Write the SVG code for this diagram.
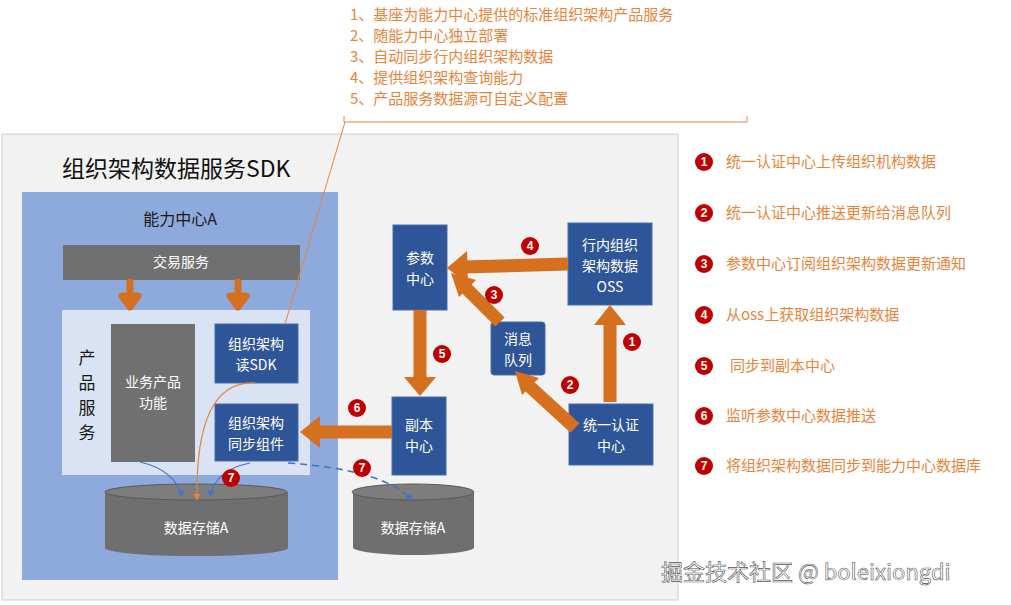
<svg xmlns="http://www.w3.org/2000/svg" width="1011" height="605" viewBox="0 0 1011 605">
<style>
text{font-family:"Noto Sans CJK SC","Liberation Sans",sans-serif}
.nb{fill:#2E5597;stroke:#4a6fae;stroke-width:1}
.nt{fill:#fff;font-size:14px;text-anchor:middle}
.gray{fill:#707070}
.or{fill:#E8843A;font-size:15px}
.lg{fill:#E8843A;font-size:15px}
.bd{fill:#C00000}
.bt{fill:#fff;font-size:12px;font-weight:bold;text-anchor:middle;font-family:"Liberation Sans",sans-serif}
.fat{stroke:#D5701F;stroke-width:13;fill:none}
.head{fill:#D5701F}
</style>
<defs>
<marker id="ba" viewBox="0 0 10 10" refX="9" refY="5" markerWidth="7" markerHeight="7" orient="auto" markerUnits="userSpaceOnUse"><path d="M0,0L10,5L0,10z" fill="#4472C4"/></marker>
<marker id="oa" viewBox="0 0 10 10" refX="9" refY="5" markerWidth="7" markerHeight="7" orient="auto" markerUnits="userSpaceOnUse"><path d="M0,0L10,5L0,10z" fill="#E8843A"/></marker>
</defs>
<rect width="1011" height="605" fill="#fff"/>
<g id="notes">
<text class="or" x="350" y="20">1、基座为能力中心提供的标准组织架构产品服务</text>
<text class="or" x="350" y="41">2、随能力中心独立部署</text>
<text class="or" x="350" y="62">3、自动同步行内组织架构数据</text>
<text class="or" x="350" y="83">4、提供组织架构查询能力</text>
<text class="or" x="350" y="104">5、产品服务数据源可自定义配置</text>
<path d="M344,116V122H747V116" fill="none" stroke="#E8843A" stroke-width="1"/>
</g>
<g id="sdk"><rect x="2" y="134" width="676" height="466" fill="#F2F2F2" stroke="#d0d0d0"/>
<text x="62" y="177" font-size="23" fill="#111">组织架构数据服务SDK</text></g>
<g id="centerA"><rect x="22" y="192" width="316" height="388" fill="#8EA9DB"/>
<text x="180" y="225" font-size="16" fill="#1a1a1a" text-anchor="middle">能力中心A</text></g>
<g id="trade"><rect x="63" y="245" width="237" height="35" class="gray"/><text class="nt" x="181" y="267">交易服务</text></g>
<g id="prod"><rect x="62" y="310" width="248" height="165" fill="#DAE3F3"/>
<text font-size="17" fill="#1a1a1a" text-anchor="middle"><tspan x="87" y="364">产</tspan><tspan x="87" y="389">品</tspan><tspan x="87" y="414">服</tspan><tspan x="87" y="439">务</tspan></text></g>
<g id="biz"><rect x="111" y="324" width="84" height="138" class="gray"/><text class="nt"><tspan x="153" y="387">业务产品</tspan><tspan x="153" y="408">功能</tspan></text></g>
<g id="readsdk"><rect x="215" y="324" width="83" height="59" class="nb"/><text class="nt"><tspan x="256" y="349">组织架构</tspan><tspan x="256" y="370">读SDK</tspan></text></g>
<g id="sync"><rect x="215" y="404" width="83" height="57" class="nb"/><text class="nt"><tspan x="256" y="428">组织架构</tspan><tspan x="256" y="449">同步组件</tspan></text></g>
<g id="db1"><path d="M105,492V548A91,8 0 0 0 288,548V492" fill="#6f6f6f"/><ellipse cx="196" cy="492" rx="91" ry="8" fill="#7d7d7d" stroke="#5a5a5a"/><text class="nt" x="196" y="533">数据存储A</text></g>
<g id="db2"><path d="M353,492V548A61,8 0 0 0 474,548V492" fill="#6f6f6f"/><ellipse cx="413" cy="492" rx="61" ry="8" fill="#7d7d7d" stroke="#5a5a5a"/><text class="nt" x="413" y="533">数据存储A</text></g>
<g id="param"><rect x="393" y="225" width="54" height="85" class="nb"/><text class="nt"><tspan x="420" y="263">参数</tspan><tspan x="420" y="284">中心</tspan></text></g>
<g id="oss"><rect x="568" y="223" width="84" height="82" class="nb"/><text class="nt"><tspan x="610" y="250">行内组织</tspan><tspan x="610" y="271">架构数据</tspan><tspan x="610" y="292">OSS</tspan></text></g>
<g id="mq"><rect x="491" y="322" width="54" height="53" rx="3" class="nb"/><text class="nt"><tspan x="518" y="344">消息</tspan><tspan x="518" y="365">队列</tspan></text></g>
<g id="copy"><rect x="392" y="397" width="54" height="78" class="nb"/><text class="nt"><tspan x="419" y="430">副本</tspan><tspan x="419" y="451">中心</tspan></text></g>
<g id="auth"><rect x="569" y="404" width="84" height="61" class="nb"/><text class="nt"><tspan x="611" y="430">统一认证</tspan><tspan x="611" y="451">中心</tspan></text></g>
<g id="connectors">
<path d="M130,282v14h-8l8,11l8,-11h-8zM238,282v14h-8l8,11l8,-11h-8z" class="head" stroke="#D5701F" stroke-width="7" stroke-linejoin="round"/>
<path class="fat" d="M568,264L462,267"/><path class="head" d="M447,268L467,251L468,284z"/>
<path class="fat" d="M500,322L463,285"/><path class="head" d="M451,273L476,280L459,297z"/>
<path class="fat" d="M420,310V380"/><path class="head" d="M404,377H436L420,396z"/>
<path class="fat" d="M392,432H318"/><path class="head" d="M300,432L320,416V448z"/>
<path class="fat" d="M575,428L528,385"/><path class="head" d="M515,371L539,378L522,395z"/>
<path class="fat" d="M610,402V322"/><path class="head" d="M594,325H626L610,305z"/>
<path d="M140,462Q175,470 182,497" fill="none" stroke="#4472C4" stroke-width="1.2" marker-end="url(#ba)"/>
<path d="M250,463Q215,470 210,497" fill="none" stroke="#4472C4" stroke-width="1.2" marker-end="url(#ba)"/>
<path d="M255,383Q195,380 197,500" fill="none" stroke="#E8843A" stroke-width="1.2" marker-end="url(#oa)"/>
<path d="M288,463Q385,470 412,500" fill="none" stroke="#4472C4" stroke-width="1.5" stroke-dasharray="7,5" marker-end="url(#ba)"/>
<path d="M285,324L345,122" fill="none" stroke="#E8843A" stroke-width="1"/>
</g>
<g id="badges">
<circle class="bd" cx="530" cy="246" r="9"/><text class="bt" x="530" y="250">4</text>
<circle class="bd" cx="494" cy="295" r="9"/><text class="bt" x="494" y="299">3</text>
<circle class="bd" cx="442" cy="354" r="9"/><text class="bt" x="442" y="358">5</text>
<circle class="bd" cx="357" cy="408" r="9"/><text class="bt" x="357" y="412">6</text>
<circle class="bd" cx="570" cy="385" r="9"/><text class="bt" x="570" y="389">2</text>
<circle class="bd" cx="632" cy="342" r="9"/><text class="bt" x="632" y="346">1</text>
<circle class="bd" cx="231" cy="478" r="9"/><text class="bt" x="231" y="482">7</text>
<circle class="bd" cx="362" cy="468" r="9"/><text class="bt" x="362" y="472">7</text>
</g>
<g id="legend">
<circle class="bd" cx="704" cy="162" r="9"/><text class="bt" x="704" y="166">1</text><text class="lg" x="726" y="167">统一认证中心上传组织机构数据</text>
<circle class="bd" cx="704" cy="213" r="9"/><text class="bt" x="704" y="217">2</text><text class="lg" x="726" y="218">统一认证中心推送更新给消息队列</text>
<circle class="bd" cx="704" cy="264" r="9"/><text class="bt" x="704" y="268">3</text><text class="lg" x="726" y="269">参数中心订阅组织架构数据更新通知</text>
<circle class="bd" cx="704" cy="315" r="9"/><text class="bt" x="704" y="319">4</text><text class="lg" x="726" y="320">从oss上获取组织架构数据</text>
<circle class="bd" cx="704" cy="366" r="9"/><text class="bt" x="704" y="370">5</text><text class="lg" x="730" y="371">同步到副本中心</text>
<circle class="bd" cx="704" cy="416" r="9"/><text class="bt" x="704" y="420">6</text><text class="lg" x="726" y="421">监听参数中心数据推送</text>
<circle class="bd" cx="704" cy="466" r="9"/><text class="bt" x="704" y="470">7</text><text class="lg" x="726" y="471">将组织架构数据同步到能力中心数据库</text>
</g>
<g id="watermark"><text x="661" y="580" font-size="22" fill="#fff" stroke="#555" stroke-width="0.6">掘金技术社区 @ boleixiongdi</text></g>
</svg>
